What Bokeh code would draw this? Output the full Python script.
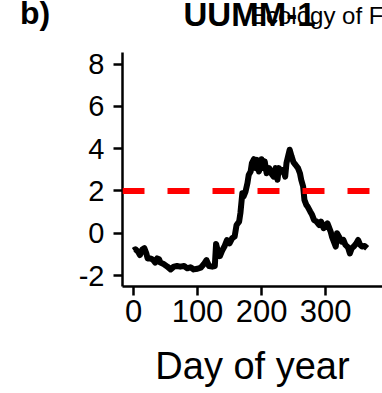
from bokeh.plotting import figure
from bokeh.models import Range1d, Span, FixedTicker, Div
from bokeh.layouts import column
from bokeh.embed import file_html
from bokeh.resources import INLINE

# ---- data ----
days = [0, 3, 7, 10, 14, 17, 20, 22, 27, 31, 34, 37, 40, 42, 47, 53, 58, 63, 68, 73,
        79, 84, 89, 94, 100, 105, 110, 114, 118, 123, 127, 129, 132, 135, 139, 142,
        146, 150, 154, 158, 161, 165, 167, 170, 172, 175, 178, 180, 183, 185, 188,
        191, 193, 196, 200, 203, 205, 208, 212, 215, 219, 222, 225, 227, 231, 234,
        237, 239, 242, 244, 247, 250, 253, 257, 260, 262, 265, 267, 270, 272, 276,
        279, 282, 286, 290, 293, 297, 300, 303, 305, 308, 310, 313, 316, 318, 321,
        325, 328, 331, 335, 338, 341, 344, 348, 351, 354, 357, 361, 365]
ndvi = [-0.82, -0.76, -0.87, -1.03, -0.76, -0.71, -0.95, -1.19, -1.19, -1.27, -1.39,
        -1.19, -1.23, -1.39, -1.46, -1.58, -1.71, -1.58, -1.55, -1.58, -1.55, -1.66,
        -1.61, -1.71, -1.68, -1.63, -1.46, -1.27, -1.55, -1.58, -1.55, -0.51, -0.87,
        -1.08, -0.79, -0.63, -0.32, -0.48, -0.24, -0.16, 0.39, 0.55, 0.95, 1.89, 1.74,
        1.97, 2.37, 2.76, 2.92, 3.32, 3.50, 3.08, 3.47, 2.92, 3.50, 3.08, 3.40, 2.84,
        3.08, 2.84, 2.68, 3.08, 2.53, 3.08, 2.92, 3.00, 2.68, 3.32, 3.71, 3.95, 3.63,
        3.35, 3.24, 3.08, 2.84, 2.53, 2.21, 1.58, 1.34, 1.26, 1.03, 0.87, 0.63, 0.55,
        0.39, 0.55, 0.24, 0.31, 0.47, 0.31, 0.08, -0.16, -0.40, -0.63, 0.00, -0.16,
        -0.40, -0.32, -0.55, -0.66, -0.95, -0.71, -0.63, -0.48, -0.32, -0.55, -0.63,
        -0.60, -0.71]
threshold = 2
x_ticks = [0, 100, 200, 300]
y_ticks = [-2, 0, 2, 4, 6, 8]
y_tick_labels = ["-2", "0", "2", "4", "6", "8"]
title_text = "UUMM-1"
panel_text = "b)"
overlap_text = "Ecology of F"
x_label = "Day of year"

FONT = "Liberation Sans"

# ---- header strip: panel letter, title and the overlapping neighbour text ----
header_svg = (
    '<svg xmlns="http://www.w3.org/2000/svg" width="382" height="40" '
    'style="display:block">'
    f'<text x="20" y="23.5" font-family="{FONT}" font-weight="bold" '
    f'font-size="32px" fill="black">{panel_text}</text>'
    f'<text x="249.5" y="25.5" text-anchor="middle" font-family="{FONT}" '
    f'font-weight="bold" font-size="33px" fill="black">{title_text}</text>'
    f'<text x="250" y="24" font-family="Open Sans" font-size="24px" '
    f'fill="black">{overlap_text}</text>'
    '</svg>'
)
head = Div(text=header_svg, width=382, height=40, margin=(0, 0, 0, 0))

# ---- main panel ----
p = figure(width=382, height=353, output_backend="svg", toolbar_location=None,
           x_range=Range1d(-17.2, 389), y_range=Range1d(-2.52, 8.55),
           min_border_left=122, min_border_right=0, min_border_top=12,
           min_border_bottom=107, margin=(0, 0, 0, 0))
p.outline_line_color = None
p.xgrid.visible = False
p.ygrid.visible = False
p.background_fill_color = "white"
p.border_fill_color = "white"

for ax in (p.xaxis[0], p.yaxis[0]):
    ax.axis_line_width = 2.5
    ax.major_tick_line_width = 2.5
    ax.major_tick_out = 9
    ax.major_tick_in = 0
    ax.minor_tick_out = 0
    ax.minor_tick_in = 0
    ax.major_label_text_font = FONT
    ax.major_label_text_color = "black"
    ax.axis_line_color = "black"
    ax.major_tick_line_color = "black"

p.xaxis.ticker = FixedTicker(ticks=x_ticks)
p.yaxis.ticker = FixedTicker(ticks=y_ticks)
p.yaxis.major_label_overrides = {t: l for t, l in zip(y_ticks, y_tick_labels)}
p.xaxis.major_label_text_font_size = "31px"
p.yaxis.major_label_text_font_size = "29px"
p.xaxis.major_label_standoff = 4
p.yaxis.major_label_standoff = 9
p.xaxis.axis_label = x_label
p.xaxis.axis_label_text_font = FONT
p.xaxis.axis_label_text_font_style = "normal"
p.xaxis.axis_label_text_font_size = "38px"
p.xaxis.axis_label_standoff = 20
p.xaxis.axis_label_text_color = "black"

p.add_layout(Span(location=threshold, dimension="width", line_color="red",
                  line_width=6, line_dash="22 23"))

p.line(days, ndvi, line_color="black", line_width=6, line_join="round")

layout = column(head, p, spacing=0)
open("out.html", "w").write(file_html(layout, INLINE))
